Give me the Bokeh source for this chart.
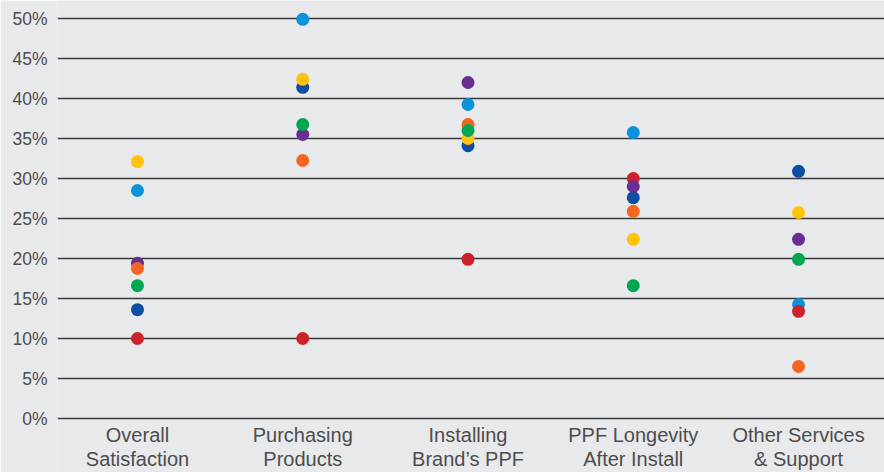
from bokeh.plotting import figure
from bokeh.models import Range1d, FixedTicker, ColumnDataSource
from bokeh.core.properties import value
from bokeh.embed import file_html
from bokeh.resources import INLINE

categories = ["Overall\nSatisfaction", "Purchasing\nProducts", "Installing\nBrand\u2019s PPF",
              "PPF Longevity\nAfter Install", "Other Services\n& Support"]

# values in percent, one list per coloured series (order of categories above)
light_blue = [28.5, 49.9, 39.25, 35.75, 14.25]
dark_blue = [13.6, 41.4, 34.1, 27.6, 30.9]
red = [10.0, 10.0, 19.9, 30.0, 13.4]
purple = [19.4, 35.5, 42.0, 29.0, 22.4]
orange = [18.75, 32.25, 36.75, 25.9, 6.5]
yellow = [32.1, 42.4, 35.0, 22.4, 25.75]
green = [16.6, 36.75, 36.0, 16.6, 19.9]

y_ticks = [0, 5, 10, 15, 20, 25, 30, 35, 40, 45, 50]
y_tick_labels = [f"{t}%" for t in y_ticks]

series = [
    (light_blue, "#0A93DB"),
    (dark_blue, "#0B4EA2"),
    (red, "#CC2229"),
    (purple, "#6A2D91"),
    (orange, "#F26522"),
    (yellow, "#FFC20E"),
    (green, "#00A650"),
]

BG = "#E8E9EB"
TXT = "#4D4D4D"

p = figure(width=884, height=472, output_backend="svg", toolbar_location=None,
           x_range=Range1d(-0.484, 4.52), y_range=Range1d(-6.75, 52.25),
           min_border_left=57, min_border_right=0, min_border_top=0, min_border_bottom=0,
           background_fill_color=BG, border_fill_color=BG, outline_line_color=None)

xs = list(range(len(categories)))
for vals, col in series:
    src = ColumnDataSource(dict(x=xs, y=vals))
    p.scatter("x", "y", source=src, size=13, fill_color=col, line_color=None)

# category labels drawn below the 0% line
lab_src = ColumnDataSource(dict(x=xs, y=[0] * len(xs), t=categories))
p.text("x", "y", text="t", source=lab_src, y_offset=5,
       text_align="center", text_baseline="top",
       text_font=value("Liberation Sans"), text_font_size="20px",
       text_color=TXT, text_line_height=1.1)

p.xgrid.grid_line_color = None
p.ygrid.ticker = FixedTicker(ticks=y_ticks)
p.ygrid.grid_line_color = "#3A3A3A"
p.ygrid.grid_line_width = 1.6
p.ygrid.level = "underlay"

p.yaxis.ticker = FixedTicker(ticks=y_ticks)
p.yaxis.major_label_overrides = {t: l for t, l in zip(y_ticks, y_tick_labels)}
p.yaxis.axis_line_color = None
p.yaxis.major_tick_line_color = None
p.yaxis.major_tick_out = 0
p.yaxis.major_tick_in = 0
p.yaxis.minor_tick_line_color = None
p.yaxis.major_label_standoff = 10
p.yaxis.major_label_text_font = "Liberation Sans"
p.yaxis.major_label_text_font_size = "17.5px"
p.yaxis.major_label_text_color = TXT

p.xaxis.visible = False

open("out.html", "w").write(file_html(p, INLINE))
